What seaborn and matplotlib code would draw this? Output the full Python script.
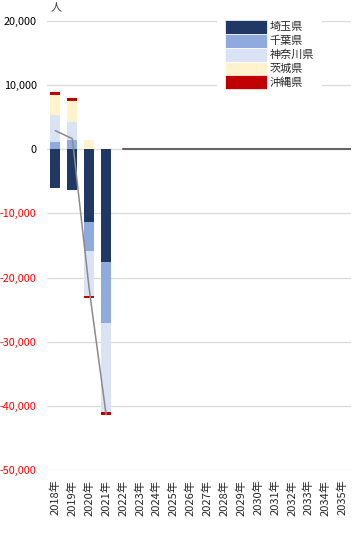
import numpy as np
import pandas as pd
import matplotlib
matplotlib.use("Agg")
import matplotlib.pyplot as plt
import seaborn as sns
from matplotlib.patches import Patch

sns.set_theme(style="white")
plt.rcParams['font.family'] = ['Noto Sans CJK JP', 'DejaVu Sans']

years = [f"{y}年" for y in range(2018, 2036)]
prefs = ["埼玉県", "千葉県", "神奈川県", "茨城県", "沖縄県"]
colors = ["#203864", "#8faadc", "#dae3f3", "#fff2cc", "#c00000"]

saitama = [-6000, -6300, -11300, -17500]
chiba = [1150, 1450, -4600, -9550]
kanagawa = [4200, 2800, -6900, -13950]
ibaraki = [3100, 3270, 1450, 0]
okinawa = [470, 470, -430, -380]
total = [2900, 1650, -21800, -41380]
zero_years = years[4:]
zero_vals = [0] * len(zero_years)

yticks = [20000, 10000, 0, -10000, -20000, -30000, -40000, -50000]

series = [saitama, chiba, kanagawa, ibaraki, okinawa]
n = len(years)

fig = plt.figure(figsize=(3.6, 5.35), dpi=100)
ax = fig.add_axes([47/360, 1 - 470/535, (351-47)/360, (470-21)/535])

pos_base = np.zeros(n)
neg_base = np.zeros(n)
for vals, name, col in zip(series, prefs, colors):
    v = np.zeros(n)
    v[:len(vals)] = vals
    bottom = np.where(v >= 0, pos_base, neg_base)
    df = pd.DataFrame({"year": years, "val": v})
    sns.barplot(data=df, x="year", y="val", ax=ax, color=col, bottom=bottom,
                width=0.59, saturation=1, linewidth=0, errorbar=None, zorder=2)
    pos_base = pos_base + np.where(v > 0, v, 0)
    neg_base = neg_base + np.where(v < 0, v, 0)

ax.plot(years[:len(total)], total, color="#8a8a8a", lw=1.1, zorder=4)
ax.plot(zero_years, zero_vals, color="#666666", lw=1.5, zorder=4)
xmin, xmax = -0.5, n - 0.5
ax.hlines(0, len(years) - 1, xmax, color="#666666", lw=1.5, zorder=4)
ax.set_xlim(xmin, xmax)

ax.set_ylim(-50000, 20000)
ax.set_yticks(yticks)
ax.yaxis.grid(True, color="#d9d9d9", lw=0.9, zorder=0)
ax.set_axisbelow(True)
for s in ax.spines.values():
    s.set_visible(False)
ax.set_xlabel("")
ax.set_ylabel("")
ax.tick_params(axis="both", length=0, labelsize=8)
ax.tick_params(axis="y", pad=7.5, labelsize=7.8)
ax.tick_params(axis="x", pad=7)
ax.set_yticklabels([f"{t:,}" if t >= 0 else f"-{abs(t):,}" for t in yticks])
for lbl, t in zip(ax.get_yticklabels(), yticks):
    lbl.set_color("#ff0000" if t < 0 else "#000000")
ax.set_xticks(range(n))
ax.set_xticklabels(years, rotation=90)

fig.text(56/360, 1 - 7/535, "人", fontsize=8, ha="center", va="center", color="#404040")

handles = [Patch(facecolor=c, edgecolor="white", lw=0.5, label=p) for p, c in zip(prefs, colors)]
leg = ax.legend(handles=handles, loc="upper left", bbox_to_anchor=(217/360, 1 - 12/535),
                bbox_transform=fig.transFigure, fontsize=8, frameon=True, fancybox=False,
                facecolor="white", edgecolor="none", framealpha=1, borderpad=0.7,
                handlelength=3.8, handleheight=1.55, handletextpad=0.25, labelspacing=0.0,
                borderaxespad=0)
leg.set_zorder(5)

fig.savefig("out.png", dpi=100)
